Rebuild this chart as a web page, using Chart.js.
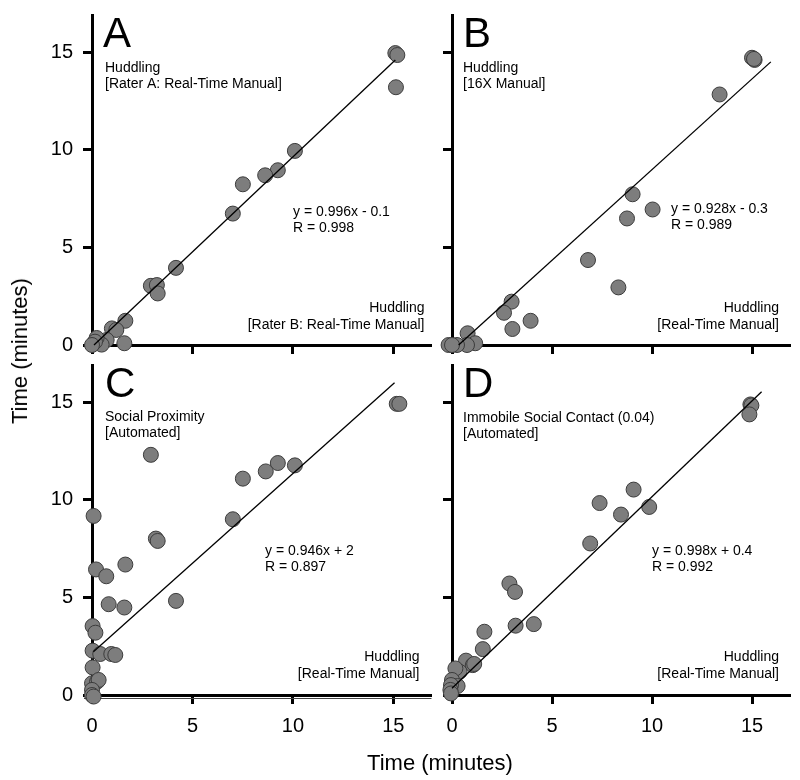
<!DOCTYPE html>
<html>
<head>
<meta charset="utf-8">
<script src="https://cdn.jsdelivr.net/npm/chart.js@4/dist/chart.umd.min.js"></script>
<style>
    body { margin: 0; background: #fff; }
    #wrap { position: relative; width: 800px; height: 780px; overflow: hidden; font-family: Arial, "Liberation Sans", sans-serif; }
    canvas { position: absolute; }
    .title { position: absolute; font-size: 22px; color: #000; white-space: nowrap; }
</style>
</head>
<body>
<div id="wrap">
    <canvas id="chartA" width="440" height="360" style="left:0;top:0"></canvas>
    <canvas id="chartB" width="360" height="360" style="left:440px;top:0"></canvas>
    <canvas id="chartC" width="440" height="430" style="left:0;top:350px"></canvas>
    <canvas id="chartD" width="360" height="430" style="left:440px;top:350px"></canvas>
    <div class="title" style="left:440px;top:763px;transform:translate(-50%,-50%)">Time (minutes)</div>
    <div class="title" style="left:20px;top:351px;transform:translate(-50%,-50%) rotate(-90deg)">Time (minutes)</div>
</div>
<script>
// Tick values shared by all panels
const tickValues = [0, 5, 10, 15];

// Panel A: Rater B (x) vs Rater A (y)
const aX = [15.1, 15.2, 15.13, 10.1, 9.25, 8.62, 7.51, 7.01, 4.18, 2.93, 3.23, 3.27, 1.66, 1.61, 0.99, 1.21, 0.73, 0.48, 0.23, 0.15, 0.0];
const aY = [14.95, 14.85, 13.2, 9.94, 8.95, 8.69, 8.23, 6.73, 3.95, 3.03, 3.07, 2.64, 1.24, 0.09, 0.85, 0.77, 0.26, 0.02, 0.36, 0.17, 0.0];
const aLineX = [0.1, 15.1];
const aLineY = [0.0, 14.6];

// Panel B: real-time manual vs 16X manual
const bX = [15.0, 15.13, 15.1, 13.38, 9.03, 10.03, 8.75, 6.8, 8.32, 2.98, 2.6, 3.93, 3.02, 0.78, 1.16, 0.75, 0.25, -0.17, 0.0];
const bY = [14.71, 14.6, 14.65, 12.83, 7.72, 6.94, 6.48, 4.35, 2.95, 2.22, 1.65, 1.24, 0.82, 0.6, 0.09, 0.0, 0.0, 0.0, 0.0];
const bLineX = [0.33, 15.94];
const bLineY = [0.0, 14.5];

// Panel C: real-time manual vs automated social proximity
const cX = [15.17, 15.3, 2.93, 9.25, 10.1, 8.65, 7.51, 7.01, 0.08, 3.18, 3.27, 1.66, 0.2, 0.71, 0.83, 1.61, 4.18, 0.03, 0.17, 0.03, 0.41, 0.96, 1.16, 0.03, 0.0, 0.25, 0.33, 0.0, 0.0, 0.08];
const cY = [14.91, 14.91, 12.3, 11.88, 11.76, 11.45, 11.08, 9.0, 9.17, 8.01, 7.89, 6.68, 6.43, 6.08, 4.65, 4.48, 4.82, 3.53, 3.19, 2.27, 2.1, 2.1, 2.05, 1.41, 0.6, 0.68, 0.77, 0.26, 0.0, -0.08];
const cLineX = [0.07, 15.06];
const cLineY = [2.22, 15.99];

// Panel D: real-time manual vs automated immobile social contact
const dX = [14.92, 14.97, 14.87, 9.08, 7.38, 9.86, 8.45, 6.91, 2.87, 3.15, 3.18, 4.09, 1.62, 1.54, 0.7, 1.04, 1.11, 0.38, 0.17, 0.0, 0.28, -0.05, -0.08, -0.05];
const dY = [14.88, 14.83, 14.37, 10.52, 9.83, 9.63, 9.24, 7.76, 5.71, 5.28, 3.55, 3.63, 3.24, 2.35, 1.76, 1.53, 1.59, 1.19, 1.36, 0.77, 0.46, 0.51, 0.26, 0.08];
const dLineX = [0.0, 15.48];
const dLineY = [0.35, 15.53];

const FONT = 'Arial, "Liberation Sans", sans-serif';
Chart.defaults.font.family = FONT;
Chart.defaults.color = '#000';

const zip = (xs, ys) => xs.map((x, i) => ({ x: x, y: ys[i] }));

// Draws panel letter and text annotations, offsets relative to chart area
const panelText = {
    id: 'panelText',
    beforeDatasetsDraw(chart, args, o) {
        if (!o.underline) return;
        // thin second line under the x axis (panel C)
        const { ctx, chartArea: a } = chart;
        ctx.save();
        ctx.strokeStyle = '#444';
        ctx.lineWidth = 1;
        ctx.beginPath();
        ctx.moveTo(a.left - 8, a.bottom + 3.5);
        ctx.lineTo(a.right, a.bottom + 3.5);
        ctx.stroke();
        ctx.restore();
    },
    afterDraw(chart, args, o) {
        const { ctx, chartArea: a } = chart;
        ctx.save();
        ctx.fillStyle = '#000';
        ctx.textBaseline = 'alphabetic';
        ctx.textAlign = 'left';
        ctx.font = '42px ' + FONT;
        ctx.fillText(o.letter, a.left + o.letterX, a.top + 32);

        ctx.font = '14px ' + FONT;
        ctx.textBaseline = 'middle';
        o.topLeft.forEach((t, i) => ctx.fillText(t, a.left + o.tlX, a.top + o.tlY + i * 16));
        o.equation.forEach((t, i) => ctx.fillText(t, a.left + o.eqX, a.top + o.eqY + i * 16));
        ctx.textAlign = 'right';
        o.bottomRight.forEach((t, i) => ctx.fillText(t, a.right + o.brX, a.top + o.brY + i * 17));
        ctx.restore();
    }
};

function axis(showLabels, size, horizontal) {
    return {
        type: 'linear',
        min: 0,
        max: 16.9,
        afterBuildTicks: (scale) => { scale.ticks = tickValues.map(v => ({ value: v })); },
        afterFit: (scale) => {
            if (horizontal) scale.height = size; else scale.width = size;
            // labels never touch the chart edges, so no extra room needed
            scale.paddingTop = 0;
            scale.paddingBottom = 0;
            scale.paddingLeft = 0;
            scale.paddingRight = 0;
        },
        border: { display: true, color: '#000', width: 3 },
        grid: { display: true, drawOnChartArea: false, drawTicks: true, tickLength: 9, tickWidth: 3, tickColor: '#000' },
        ticks: { display: showLabels, padding: 10, font: { size: 20 }, color: '#000', maxRotation: 0 }
    };
}

function createPanel(canvasId, xs, ys, lineX, lineY, opts) {
    const canvas = document.getElementById(canvasId);
    return new Chart(canvas, {
        type: 'scatter',
        data: {
            datasets: [{
                data: zip(lineX, lineY),
                showLine: true,
                borderColor: '#000',
                borderWidth: 1.3,
                pointRadius: 0,
                clip: false,
                order: 0
            }, {
                data: zip(xs, ys),
                backgroundColor: '#7d7d7d',
                borderColor: '#3c3c3c',
                borderWidth: 1,
                pointRadius: 7.5,
                clip: false,
                order: 1
            }]
        },
        options: {
            responsive: false,
            animation: false,
            layout: { padding: { top: 15, right: opts.padRight, left: 0, bottom: 0 } },
            plugins: {
                legend: { display: false },
                tooltip: { enabled: false },
                panelText: opts.text
            },
            scales: {
                x: axis(opts.xLabels, opts.xHeight, true),
                y: axis(opts.yLabels, opts.yWidth, false)
            }
        },
        plugins: [panelText]
    });
}

createPanel('chartA', aX, aY, aLineX, aLineY, {
    padRight: 8, xLabels: false, xHeight: 15, yLabels: true, yWidth: 92,
    text: {
        letter: 'A', letterX: 11,
        topLeft: ['Huddling', '[Rater A: Real-Time Manual]'], tlX: 13, tlY: 53,
        equation: ['y = 0.996x - 0.1', 'R = 0.998'], eqX: 201, eqY: 197,
        bottomRight: ['Huddling', '[Rater B: Real-Time Manual]'], brX: -7, brY: 293
    }
});

createPanel('chartB', bX, bY, bLineX, bLineY, {
    padRight: 10, xLabels: false, xHeight: 15, yLabels: false, yWidth: 12,
    text: {
        letter: 'B', letterX: 11,
        topLeft: ['Huddling', '[16X Manual]'], tlX: 11, tlY: 53,
        equation: ['y = 0.928x - 0.3', 'R = 0.989'], eqX: 219, eqY: 194,
        bottomRight: ['Huddling', '[Real-Time Manual]'], brX: -11, brY: 293
    }
});

createPanel('chartC', cX, cY, cLineX, cLineY, {
    padRight: 8, xLabels: true, xHeight: 85, yLabels: true, yWidth: 92,
    text: {
        letter: 'C', letterX: 13, underline: true,
        topLeft: ['Social Proximity', '[Automated]'], tlX: 13, tlY: 52,
        equation: ['y = 0.946x + 2', 'R = 0.897'], eqX: 173, eqY: 186,
        bottomRight: ['Huddling', '[Real-Time Manual]'], brX: -12, brY: 292
    }
});

createPanel('chartD', dX, dY, dLineX, dLineY, {
    padRight: 10, xLabels: true, xHeight: 85, yLabels: false, yWidth: 12,
    text: {
        letter: 'D', letterX: 11,
        topLeft: ['Immobile Social Contact (0.04)', '[Automated]'], tlX: 11, tlY: 53,
        equation: ['y = 0.998x + 0.4', 'R = 0.992'], eqX: 200, eqY: 186,
        bottomRight: ['Huddling', '[Real-Time Manual]'], brX: -11, brY: 292
    }
});
</script>
</body>
</html>
